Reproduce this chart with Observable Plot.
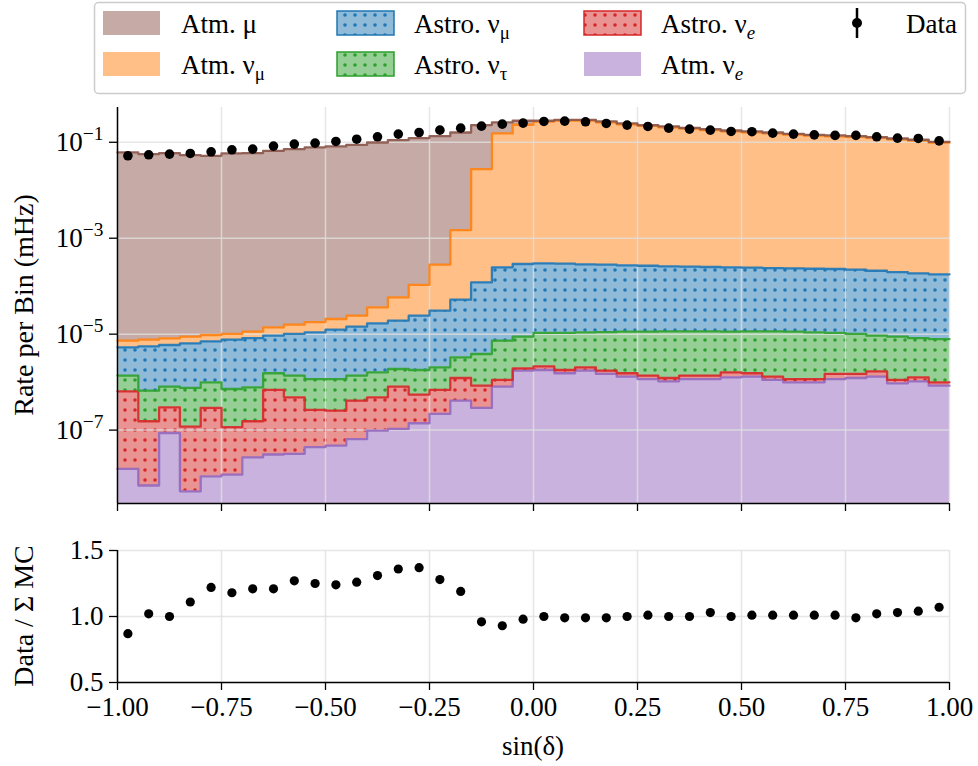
<!DOCTYPE html>
<html><head><meta charset="utf-8">
<script src="https://cdn.jsdelivr.net/npm/d3@7"></script>
<script src="https://cdn.jsdelivr.net/npm/@observablehq/plot@0.6"></script>
<style>
body{margin:0;background:#fff;width:978px;height:766px;overflow:hidden;font-family:"Liberation Serif",serif;}
#wrap{position:relative;width:978px;height:766px;}
#legend{position:absolute;left:0;top:0;}
#main{position:absolute;left:0;top:95px;}
#ratio{position:absolute;left:0;top:513px;}
</style></head><body>
<div id="wrap">
<svg id="legend" width="978" height="95">
  <defs>
    <pattern id="hatchBlue" patternUnits="userSpaceOnUse" width="10" height="10">
      <rect width="10" height="10" fill="#8fbbd9"/><circle cx="5" cy="5" r="1.8" fill="#1f77b4"/>
    </pattern>
    <pattern id="hatchGreen" patternUnits="userSpaceOnUse" width="10" height="10">
      <rect width="10" height="10" fill="#95cf95"/><circle cx="5" cy="5" r="1.8" fill="#2ca02c"/>
    </pattern>
    <pattern id="hatchRed" patternUnits="userSpaceOnUse" width="10" height="10">
      <rect width="10" height="10" fill="#ea9393"/><circle cx="5" cy="5" r="1.8" fill="#d62728"/>
    </pattern>
  </defs>
</svg>
<div id="main"></div>
<div id="ratio"></div>
</div>
<script>
// bin edges in sin(declination)
const binEdges = [-1.00,-0.95,-0.90,-0.85,-0.80,-0.75,-0.70,-0.65,-0.60,-0.55,-0.50,-0.45,-0.40,-0.35,-0.30,-0.25,-0.20,-0.15,-0.10,-0.05,
  0.00,0.05,0.10,0.15,0.20,0.25,0.30,0.35,0.40,0.45,0.50,0.55,0.60,0.65,0.70,0.75,0.80,0.85,0.90,0.95,1.00];
const binCenters = [-0.975,-0.925,-0.875,-0.825,-0.775,-0.725,-0.675,-0.625,-0.575,-0.525,-0.475,-0.425,-0.375,-0.325,-0.275,-0.225,-0.175,-0.125,-0.075,-0.025,
  0.025,0.075,0.125,0.175,0.225,0.275,0.325,0.375,0.425,0.475,0.525,0.575,0.625,0.675,0.725,0.775,0.825,0.875,0.925,0.975];

// Stacked (cumulative) rate per bin in mHz, top edge of each layer, bottom layer first
const atmNuETop = [1.55e-8,7.0e-9,8.7e-8,5.3e-9,1.09e-8,1.18e-8,2.7e-8,3.1e-8,3.2e-8,4.4e-8,
  4.75e-8,6.5e-8,9.8e-8,1.06e-7,1.39e-7,2.17e-7,4.1e-7,2.9e-7,8.05e-7,1.74e-6,
  1.79e-6,1.53e-6,1.74e-6,1.48e-6,1.30e-6,1.16e-6,1.04e-6,1.16e-6,1.16e-6,1.26e-6,
  1.30e-6,1.11e-6,9.9e-7,9.9e-7,1.16e-6,1.22e-6,1.30e-6,9.46e-7,1.04e-6,8.45e-7];
const astroNuETop = [6.44e-7,1.53e-7,2.99e-7,1.18e-7,2.9e-7,1.15e-7,1.53e-7,6.87e-7,4.83e-7,2.63e-7,
  2.55e-7,4.1e-7,4.83e-7,8.05e-7,5.5e-7,6.87e-7,1.22e-6,8.45e-7,1.11e-6,1.94e-6,
  2.14e-6,1.79e-6,2.04e-6,1.74e-6,1.53e-6,1.37e-6,1.22e-6,1.37e-6,1.37e-6,1.60e-6,
  1.53e-6,1.30e-6,1.16e-6,1.16e-6,1.48e-6,1.48e-6,1.68e-6,1.11e-6,1.26e-6,9.9e-7];
const astroNuTauTop = [1.37e-6,6.65e-7,8.05e-7,7.56e-7,9.9e-7,7.2e-7,7.8e-7,1.53e-6,1.37e-6,1.16e-6,
  1.16e-6,1.37e-6,1.60e-6,1.88e-6,1.79e-6,2.04e-6,3.29e-6,3.86e-6,7.3e-6,8.87e-6,
  1.06e-5,1.06e-5,1.09e-5,1.10e-5,1.13e-5,1.13e-5,1.14e-5,1.14e-5,1.14e-5,1.13e-5,
  1.14e-5,1.14e-5,1.13e-5,1.09e-5,1.06e-5,1.01e-5,9.3e-6,8.87e-6,8.3e-6,7.9e-6];
const astroNuMuTop = [5.32e-6,5.58e-6,5.94e-6,6.44e-6,7.1e-6,7.68e-6,8.3e-6,9.3e-6,1.01e-5,1.09e-5,
  1.24e-5,1.43e-5,1.68e-5,1.91e-5,2.43e-5,3.09e-5,5.24e-5,1.20e-4,2.47e-4,2.90e-4,
  2.99e-4,2.95e-4,2.85e-4,2.81e-4,2.72e-4,2.67e-4,2.59e-4,2.55e-4,2.51e-4,2.47e-4,
  2.43e-4,2.39e-4,2.35e-4,2.31e-4,2.28e-4,2.21e-4,2.10e-4,1.97e-4,1.85e-4,1.77e-4];
const atmNuMuTop = [7.3e-6,7.68e-6,8.18e-6,8.87e-6,9.6e-6,1.01e-5,1.13e-5,1.39e-5,1.58e-5,1.79e-5,
  2.07e-5,2.43e-5,3.62e-5,5.85e-5,1.07e-4,2.81e-4,1.48e-3,2.76e-2,0.153,0.232,
  0.270,0.282,0.282,0.261,0.237,0.219,0.205,0.192,0.180,0.169,
  0.161,0.154,0.144,0.137,0.133,0.129,0.123,0.115,0.108,0.098];
const atmMuTop = [6.14e-2,5.67e-2,5.95e-2,5.4e-2,5.23e-2,5.85e-2,5.95e-2,6.65e-2,7.2e-2,7.8e-2,
  8.19e-2,8.87e-2,9.9e-2,0.111,0.122,0.134,0.160,0.228,0.259,0.281,
  0.281,0.294,0.294,0.272,0.247,0.228,0.214,0.200,0.188,0.176,
  0.168,0.160,0.150,0.143,0.139,0.134,0.128,0.120,0.113,0.102];
const dataRate = [5.23e-2,5.49e-2,5.67e-2,5.85e-2,6.34e-2,6.98e-2,7.2e-2,8.32e-2,9.16e-2,9.6e-2,
  0.104,0.116,0.130,0.148,0.160,0.179,0.197,0.217,0.239,0.251,
  0.272,0.276,0.267,0.247,0.228,0.214,0.197,0.188,0.179,0.168,
  0.166,0.155,0.148,0.143,0.139,0.139,0.130,0.122,0.120,0.107];
const dataOverMC = [0.87,1.02,1.00,1.11,1.22,1.18,1.21,1.21,1.27,1.25,
  1.24,1.26,1.31,1.36,1.37,1.28,1.19,0.96,0.93,0.98,
  1.00,0.99,0.99,0.99,1.00,1.01,1.00,1.00,1.03,1.00,
  1.01,1.01,1.01,1.01,1.01,0.99,1.02,1.03,1.04,1.07];

const xTicks = [-1.00,-0.75,-0.50,-0.25,0.00,0.25,0.50,0.75,1.00];
const yTicksMain = [1e-1,1e-3,1e-5,1e-7];
const yTicksRatio = [0.5,1.0,1.5];

const layers = [
  {tops: atmNuETop,    fill: "#c9b3de",         stroke: "#9467bd"},
  {tops: astroNuETop,  fill: "url(#hatchRed)",  stroke: "#d62728"},
  {tops: astroNuTauTop,fill: "url(#hatchGreen)",stroke: "#2ca02c"},
  {tops: astroNuMuTop, fill: "url(#hatchBlue)", stroke: "#1f77b4"},
  {tops: atmNuMuTop,   fill: "#ffbf86",         stroke: "#ff7f0e"},
  {tops: atmMuTop,     fill: "#c5aaa5",         stroke: "#8c564b"}
];
const yMin = Math.pow(10, -8.53), yMax = Math.pow(10, -0.275);

const layerRows = layers.map((L, k) => binEdges.map((x, i) => {
  const b = Math.min(i, binCenters.length - 1);
  return {x, y1: k === 0 ? yMin : layers[k-1].tops[b], y2: L.tops[b]};
}));

const gridColor = "#e0e0e0";
const fontStyle = {fontFamily: '"Liberation Serif", serif', fontSize: "27px", background: "transparent", overflow: "visible"};

const expFmt = d => { const e = Math.round(Math.log10(d)); return (e < 0 ? "\u2212" : "") + Math.abs(e); };

const main = Plot.plot({
  width: 978, height: 418,
  marginLeft: 117, marginRight: 29, marginTop: 12, marginBottom: 10,
  style: fontStyle,
  x: {domain: [-1, 1]},
  y: {type: "log", domain: [yMin, yMax]},
  marks: [
    ...layers.map((L, k) => Plot.areaY(layerRows[k], {x: "x", y1: "y1", y2: "y2", curve: "step-after", fill: L.fill})),
    Plot.gridX({ticks: xTicks, stroke: gridColor, strokeOpacity: 0.8, strokeWidth: 1.5}),
    Plot.gridY({ticks: yTicksMain, stroke: gridColor, strokeOpacity: 0.8, strokeWidth: 1.5}),
    ...layers.map((L, k) => Plot.line(layerRows[k], {x: "x", y: "y2", curve: "step-after", stroke: L.stroke, strokeWidth: 2.3, strokeOpacity: 0.9})),
    Plot.dot(binCenters.map((x, i) => ({x, y: dataRate[i]})), {x: "x", y: "y", r: 4.8, fill: "black", stroke: "none"}),
    Plot.ruleX([-1], {stroke: "black", strokeWidth: 1.5}),
    Plot.ruleY([yMin], {stroke: "black", strokeWidth: 1.5}),
    Plot.axisX({ticks: xTicks, tickSize: 8, tickFormat: () => "", label: null, stroke: "black", strokeWidth: 1.3}),
    Plot.axisY({ticks: yTicksMain, tickSize: 8, tickPadding: 6, tickFormat: expFmt, label: null, stroke: "black", strokeWidth: 1.3, fill: "black"})
  ]
});
document.getElementById("main").appendChild(main);

// superscript exponents on the log axis labels
d3.select(main).selectAll('g[aria-label="y-axis tick label"] text').each(function() {
  const t = d3.select(this); const e = this.textContent;
  t.text("10");
  t.append("tspan").attr("dy", "-0.55em").attr("font-size", "72%").text(e);
});
d3.select(main).append("text")
  .attr("transform", "translate(33,210) rotate(-90)")
  .attr("text-anchor", "middle").attr("fill", "black")
  .attr("font-size", "28px")
  .text("Rate per Bin (mHz)");

const ratio = Plot.plot({
  width: 978, height: 253,
  marginLeft: 117, marginRight: 29, marginTop: 37, marginBottom: 84,
  style: fontStyle,
  x: {domain: [-1, 1]},
  y: {domain: [0.5, 1.5]},
  marks: [
    Plot.gridX({ticks: xTicks, stroke: gridColor, strokeOpacity: 0.8, strokeWidth: 1.5}),
    Plot.gridY({ticks: yTicksRatio, stroke: gridColor, strokeOpacity: 0.8, strokeWidth: 1.5}),
    Plot.dot(binCenters.map((x, i) => ({x, y: dataOverMC[i]})), {x: "x", y: "y", r: 4.6, fill: "black", stroke: "none"}),
    Plot.ruleX([-1], {stroke: "black", strokeWidth: 1.5}),
    Plot.ruleY([0.5], {stroke: "black", strokeWidth: 1.5}),
    Plot.axisX({ticks: xTicks, tickSize: 8, tickPadding: 6, tickFormat: d3.format(".2f"), label: null, stroke: "black", strokeWidth: 1.3, fill: "black"}),
    Plot.axisY({ticks: yTicksRatio, tickSize: 8, tickPadding: 6, tickFormat: d3.format(".1f"), label: null, stroke: "black", strokeWidth: 1.3, fill: "black"})
  ]
});
document.getElementById("ratio").appendChild(ratio);
d3.select(ratio).append("text")
  .attr("transform", "translate(33,103) rotate(-90)")
  .attr("text-anchor", "middle").attr("fill", "black")
  .attr("font-size", "28px")
  .text("Data / \u03A3 MC");
d3.select(ratio).append("text")
  .attr("x", 533).attr("y", 242)
  .attr("text-anchor", "middle").attr("fill", "black")
  .text("sin(\u03B4)");

// legend
const leg = d3.select("#legend").style("font-family", '"Liberation Serif", serif').style("font-size", "27px");
leg.append("rect").attr("x", 94.5).attr("y", 2.5).attr("width", 871).attr("height", 91).attr("rx", 4)
  .attr("fill", "white").attr("stroke", "#cccccc").attr("stroke-width", 1.5);
const legendItems = [
  {col: 0, row: 0, fill: "#c5aaa5", stroke: null, parts: ["Atm. \u03BC"]},
  {col: 0, row: 1, fill: "#ffbf86", stroke: null, parts: ["Atm. \u03BD", "\u03BC"]},
  {col: 1, row: 0, fill: "url(#hatchBlue)", stroke: "#1f77b4", parts: ["Astro. \u03BD", "\u03BC"]},
  {col: 1, row: 1, fill: "url(#hatchGreen)", stroke: "#2ca02c", parts: ["Astro. \u03BD", "\u03C4"]},
  {col: 2, row: 0, fill: "url(#hatchRed)", stroke: "#d62728", parts: ["Astro. \u03BD", "e", true]},
  {col: 2, row: 1, fill: "#c9b3de", stroke: null, parts: ["Atm. \u03BD", "e", true]}
];
const swX = [103, 337, 584], txX = [181, 414, 661], rowY = [11, 52];
legendItems.forEach(it => {
  leg.append("rect").attr("x", swX[it.col]).attr("y", rowY[it.row]).attr("width", 57).attr("height", 24)
    .attr("fill", it.fill).attr("stroke", it.stroke || "none").attr("stroke-width", 1.5);
  const t = leg.append("text").attr("x", txX[it.col]).attr("y", rowY[it.row] + 22).attr("fill", "black").text(it.parts[0]);
  if (it.parts[1]) {
    const s = t.append("tspan").attr("dy", "0.3em").attr("font-size", "70%").text(it.parts[1]);
    if (it.parts[2]) s.attr("font-style", "italic");
  }
});
leg.append("line").attr("x1", 857).attr("x2", 857).attr("y1", 8).attr("y2", 38).attr("stroke", "black").attr("stroke-width", 2.5);
leg.append("circle").attr("cx", 857).attr("cy", 23).attr("r", 5).attr("fill", "black");
leg.append("text").attr("x", 906).attr("y", 33).attr("fill", "black").text("Data");
</script>
</body></html>
